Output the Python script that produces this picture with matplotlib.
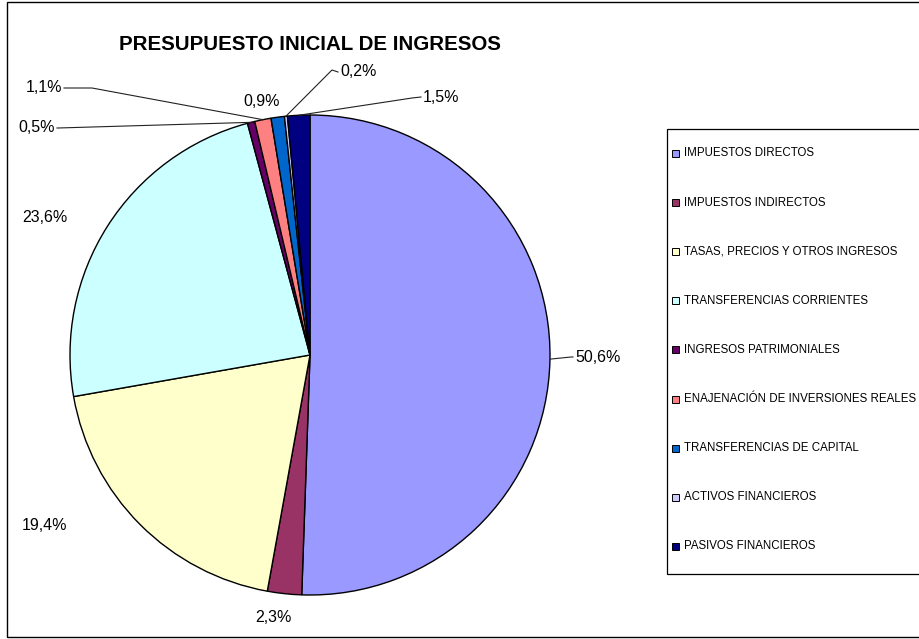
import numpy as np
import matplotlib
matplotlib.use('Agg')
import matplotlib.pyplot as plt
from matplotlib.patches import Rectangle

plt.rcParams['font.family'] = ['Liberation Sans', 'DejaVu Sans']

# Data
categories = ['IMPUESTOS DIRECTOS', 'IMPUESTOS INDIRECTOS', 'TASAS, PRECIOS Y OTROS INGRESOS',
              'TRANSFERENCIAS CORRIENTES', 'INGRESOS PATRIMONIALES',
              'ENAJENACIÓN DE INVERSIONES REALES', 'TRANSFERENCIAS DE CAPITAL',
              'ACTIVOS FINANCIEROS', 'PASIVOS FINANCIEROS']
values = [50.6, 2.3, 19.4, 23.6, 0.5, 1.1, 0.9, 0.2, 1.5]
pct_labels = ['50,6%', '2,3%', '19,4%', '23,6%', '0,5%', '1,1%', '0,9%', '0,2%', '1,5%']
colors = ['#9999FF', '#993366', '#FFFFCC', '#CCFFFF', '#660066',
          '#FF8080', '#0066CC', '#CCCCFF', '#000080']

# layout in pixels (origin top-left)
W, H = 920, 639
cx, cy, R = 310, 355, 240

# label placement: text x, text y, ha, elbow (None = no leader)
label_pos = [
    (575, 357, 'left', (571, 357)),
    (273, 618, 'center', None),
    (45, 525, 'center', None),
    (45, 218, 'center', None),
    (55, 128, 'right', (58, 128)),
    (62, 88, 'right', (92, 88)),
    (262, 101, 'center', None),
    (340, 72, 'left', (332, 70)),
    (423, 97, 'left', (412, 98)),
]


def Y(y):
    return H - y


fig = plt.figure(figsize=(W / 100, H / 100), dpi=100)
ax = fig.add_axes([0, 0, 1, 1])

ax.pie(values, colors=colors, startangle=90, counterclock=False,
       center=(cx, Y(cy)), radius=R,
       wedgeprops=dict(edgecolor='black', linewidth=1.0))
ax.set_xlim(0, W)
ax.set_ylim(0, H)
ax.set_aspect('equal')
ax.axis('off')

# percent labels with leader lines
total = sum(values)
cum = np.cumsum([0] + values)
for i, (tx, ty, ha, elbow) in enumerate(label_pos):
    mid = (cum[i] + values[i] / 2) / total
    ang = np.deg2rad(90 - mid * 360)
    ex, ey = cx + R * np.cos(ang), cy - R * np.sin(ang)
    ax.text(tx, Y(ty), pct_labels[i], ha=ha, va='center', fontsize=11.5)
    if elbow is not None:
        if ha == 'left':
            end = (tx - 2, ty)
        else:
            end = (tx + 2, ty)
        ax.plot([ex, elbow[0], end[0]], [Y(ey), Y(elbow[1]), Y(end[1])],
                color='#222222', lw=0.8)

# title
ax.text(310, Y(45), 'PRESUPUESTO INICIAL DE INGRESOS', ha='center', va='center',
        fontsize=14.8, fontweight='bold')

# legend box (clipped at the right edge)
ax.add_patch(Rectangle((667, Y(574)), 300, 574 - 129, facecolor='white',
                       edgecolor='black', lw=0.9, clip_on=True))
for i, name in enumerate(categories):
    ly = 153.5 + 49.1 * i
    ax.add_patch(Rectangle((672, Y(ly) - 3.5), 7, 7, facecolor=colors[i],
                           edgecolor='black', lw=0.7))
    ax.text(684, Y(ly), name, ha='left', va='center', fontsize=8.3)

# outer chart frame
ax.add_patch(Rectangle((7, Y(637)), 950, 635, facecolor='none',
                       edgecolor='black', lw=1.0, clip_on=True))

fig.savefig('out.png', dpi=100)
